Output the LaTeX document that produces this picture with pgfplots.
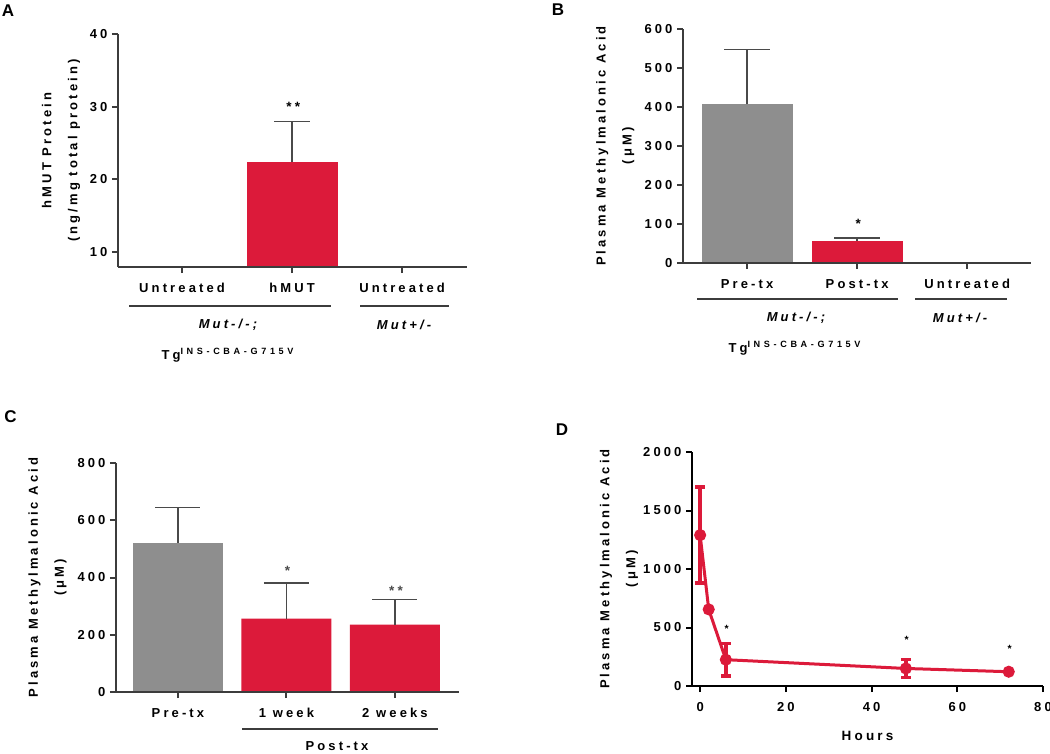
\documentclass[border=0pt]{standalone}
\usepackage{pgfplots}
\pgfplotsset{compat=1.18}
\usepackage{fontspec}
\setmainfont{Liberation Sans}
\newfontfamily\pf[LetterSpace=24]{Liberation Sans}
\newfontfamily\pfs[LetterSpace=40]{Liberation Sans}
\definecolor{myred}{HTML}{DC1A3A}
\definecolor{mygray}{HTML}{8E8E8E}
\definecolor{axgray}{HTML}{3C3C3C}
\definecolor{errgray}{HTML}{4A4A4A}
\newcommand{\tfont}{\pf\bfseries\fontsize{13}{14}\selectfont}
\newcommand{\lfont}{\pf\bfseries\fontsize{13}{26}\selectfont}
\newcommand{\sfont}{\pf\bfseries\fontsize{13.5}{13.5}\selectfont}
\pgfplotsset{
  prism/.style={
    scale only axis,
    axis x line=bottom, axis y line=left,
    axis line style={axgray, line width=2pt, -},
    tick style={axgray, line width=2pt},
    major tick length=6pt,
    tick align=outside,
    tick label style={font=\tfont},
    xticklabel style={yshift=-7pt},
    yticklabel style={xshift=-1pt},
    /pgf/number format/assume math mode=true,
    /pgf/number format/1000 sep={},
    scaled ticks=false,
    ylabel style={font=\lfont, align=center, anchor=center},
    axis on top,
  },
  bars/.style={ybar, bar width=91pt, bar shift=0pt, draw=none, fill=#1},
  gerr/.style={error bars/.cd, y dir=plus, y explicit,
    error bar style={errgray, line width=1.3pt},
    error mark options={rotate=90, errgray, line width=1.3pt, mark size=#1}},
}
\begin{document}
\begin{tikzpicture}
\useasboundingbox (0pt,0pt) rectangle (1050pt,-753pt);

% ---------------- Panel A ----------------
\begin{axis}[prism, at={(118pt,-267pt)}, anchor=south west,
  width=349pt, height=233pt,
  xmin=-0.582, xmax=2.59, ymin=7.94, ymax=40,
  ytick={10,20,30,40},
  xtick={0,1,2}, xticklabels={Untreated,hMUT,Untreated},
  ylabel={hMUT Protein\\(ng/mg total protein)},
  ylabel style={at={(axis description cs:-0.163,0.5)}}]
\addplot[bars=myred, gerr=18pt] coordinates {(1,22.4) +- (0,5.6)};
\node[font=\sfont] at (axis cs:1.01,30.0) {**};
\end{axis}

% ---------------- Panel B ----------------
\begin{axis}[prism, at={(683pt,-263pt)}, anchor=south west,
  width=348pt, height=234pt,
  xmin=-0.582, xmax=2.58, ymin=0, ymax=600,
  ytick={0,100,200,300,400,500,600},
  xtick={0,1,2}, xticklabels={Pre-tx,Post-tx,Untreated},
  ylabel={Plasma Methylmalonic Acid\\(μM)},
  ylabel style={at={(axis description cs:-0.195,0.5)}}]
\addplot[bars=mygray, gerr=23pt] coordinates {(0,407) +- (0,141)};
\addplot[bars=myred, gerr=23pt] coordinates {(1,57) +- (0,7)};
\node[font=\sfont] at (axis cs:1.01,100) {*};
\end{axis}

% ---------------- Panel C ----------------
\begin{axis}[prism, at={(116pt,-692pt)}, anchor=south west,
  width=343pt, height=229pt,
  xmin=-0.571, xmax=2.59, ymin=0, ymax=800,
  ytick={0,200,400,600,800},
  xtick={0,1,2}, xticklabels={Pre-tx,1 week,2 weeks},
  ylabel={Plasma Methylmalonic Acid\\(μM)},
  ylabel style={at={(axis description cs:-0.2,0.5)}}]
\addplot[bars=mygray, bar width=90pt, gerr=22.5pt] coordinates {(0,522) +- (0,123)};
\addplot[bars=myred, bar width=90pt, gerr=22.5pt] coordinates {(1,256) +- (0,125) (2,235) +- (0,89)};
\node[font=\sfont, text=errgray] at (axis cs:1.01,424) {*};
\node[font=\sfont, text=errgray] at (axis cs:2.01,354) {**};
\end{axis}

% ---------------- Panel D ----------------
\begin{axis}[prism, at={(692pt,-686pt)}, anchor=south west,
  width=351pt, height=234pt,
  axis line style={black}, tick style={black},
  xmin=-1.9, xmax=80, ymin=0, ymax=2000,
  xtick={0,20,40,60,80}, ytick={0,500,1000,1500,2000},
  xlabel={Hours},
  xlabel style={font=\pf\bfseries\fontsize{13.5}{14}\selectfont, at={(axis description cs:0.5,0)}, anchor=center, yshift=-50pt},
  ylabel={Plasma Methylmalonic Acid\\(μM)},
  ylabel style={at={(axis description cs:-0.208,0.5)}},
  clip=false]
\addplot[only marks, mark=none, myred, error bars/.cd, y dir=both, y explicit,
  error bar style={myred, line width=3.5pt},
  error mark options={rotate=90, myred, line width=3.5pt, mark size=5pt}]
  coordinates {(0,1290) +- (0,410) (6,225) +- (0,140) (48,150) +- (0,78)};
\addplot[myred, line width=3pt, mark=*, mark size=4.5pt, mark options={solid, fill=myred}]
  coordinates {(0,1290) (2,655) (6,225) (48,150) (72,122)};
\node[font=\pf\bfseries\fontsize{10.5}{10.5}\selectfont] at (axis cs:6.2,490) {*};
\node[font=\pf\bfseries\fontsize{10.5}{10.5}\selectfont] at (axis cs:48.2,396) {*};
\node[font=\pf\bfseries\fontsize{10.5}{10.5}\selectfont] at (axis cs:72.2,320) {*};
\end{axis}

% ---------------- annotations ----------------
\begin{scope}[x=1pt, y=-1pt]
  \node[font=\bfseries\fontsize{17}{17}\selectfont] at (8,10.5) {A};
  \node[font=\bfseries\fontsize{17}{17}\selectfont] at (558,9.5) {B};
  \node[font=\bfseries\fontsize{17}{17}\selectfont] at (10.5,416.5) {C};
  \node[font=\bfseries\fontsize{17}{17}\selectfont] at (562,429.5) {D};
  % group lines A
  \draw[axgray, line width=2pt] (129,306) -- (331,306);
  \draw[axgray, line width=2pt] (360,306) -- (449,306);
  \node[font=\tfont\itshape] at (228,325) {Mut-/-;};
  \node[font=\tfont, anchor=base west] at (158,359) {Tg\textsuperscript{\pfs INS-CBA-G715V}};
  \node[font=\tfont\itshape] at (404,325) {Mut+/-};
  % group lines B
  \draw[axgray, line width=2pt] (697,299) -- (898,299);
  \draw[axgray, line width=2pt] (915,299) -- (1007,299);
  \node[font=\tfont\itshape] at (796,318) {Mut-/-;};
  \node[font=\tfont, anchor=base west] at (725,352) {Tg\textsuperscript{\pfs INS-CBA-G715V}};
  \node[font=\tfont\itshape] at (960,318) {Mut+/-};
  % group line C
  \draw[axgray, line width=2pt] (242,729) -- (438,729);
  \node[font=\tfont] at (337,746) {Post-tx};
\end{scope}
\end{tikzpicture}
\end{document}
